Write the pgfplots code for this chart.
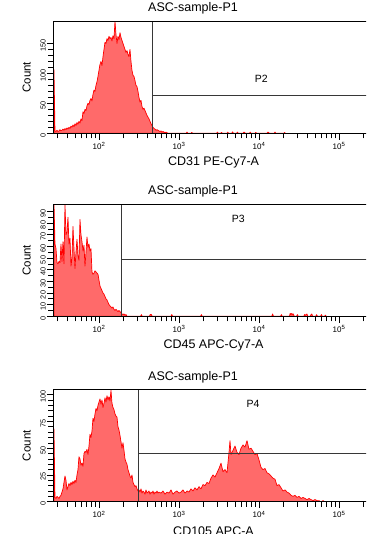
\documentclass[border=0pt]{standalone}
\usepackage{pgfplots}
\pgfplotsset{compat=1.18}
\usepackage{fontspec}
\setmainfont{Liberation Sans}
\definecolor{histfill}{RGB}{255,106,106}
\definecolor{histline}{RGB}{255,0,0}
\definecolor{gate}{RGB}{55,55,55}
\tikzset{
  facsarea/.style={fill=histfill, draw=histline, line width=0.7pt, line join=round},
  gateline/.style={gate, line width=0.9pt},
  gatelabel/.style={font=\fontsize{10.5}{11}\selectfont},
}
\pgfplotsset{
  facs/.style={
    scale only axis, width=319.2pt, height=112pt,
    xmin=1.429, xmax=5.4185, ymin=0,
    axis on top, clip=true,
    tick pos=left, tick align=outside,
    axis line style={black, line width=0.8pt},
    major tick length=6.5pt, minor tick length=5pt,
    every tick/.append style={black, line width=0.6pt},
    xtick={2,3,4,5},
    xticklabels={10\textsuperscript{2},10\textsuperscript{3},10\textsuperscript{4},10\textsuperscript{5}},
    minor xtick={1.4771,1.6021,1.6990,1.7782,1.8451,1.9031,1.9542,
      2.3010,2.4771,2.6021,2.6990,2.7782,2.8451,2.9031,2.9542,
      3.3010,3.4771,3.6021,3.6990,3.7782,3.8451,3.9031,3.9542,
      4.3010,4.4771,4.6021,4.6990,4.7782,4.8451,4.9031,4.9542,5.3010},
    xticklabel style={font=\fontsize{8}{9}\selectfont, inner sep=1pt, yshift=-1.5pt},
    yticklabel style={font=\fontsize{7.3}{8}\selectfont, rotate=90, anchor=south, inner sep=1pt, xshift=-2pt},
    /pgf/number format/assume math mode=true,
    ylabel={Count},
    ylabel style={at={(axis description cs:-0.0833,0.5)}, anchor=center, font=\fontsize{11.5}{12}\selectfont},
    xlabel style={at={(axis description cs:0.502,-0.262)}, anchor=center, font=\fontsize{12.5}{13}\selectfont},
    title={ASC-sample-P1},
    title style={at={(axis description cs:0.4377,1.06)}, anchor=center, font=\fontsize{12.5}{13}\selectfont},
  },
}
\begin{document}
\begin{tikzpicture}
\useasboundingbox (0,0) rectangle (366pt,534pt);
\clip (0,0) rectangle (366pt,534pt);
% ---------- Panel 1 ----------
\begin{axis}[facs, at={(53.3pt,400.7pt)}, anchor=south west,
  ymax=187, ytick={0,50,100,150}, minor y tick num=4,
  xlabel={CD31 PE-Cy7-A}]
\addplot[facsarea] coordinates {
(1.4375,106)(1.45,4)(1.4625,3)(1.475,5)(1.4875,3)(1.5,4)(1.5125,6)(1.525,4)(1.5375,5)(1.55,7)(1.5625,5)(1.575,8)(1.5875,6)(1.6,9)(1.6125,7)(1.625,10)(1.6375,8)(1.65,12)(1.6625,10)(1.675,14)(1.6875,11)(1.7,16)(1.7125,13)(1.725,18)(1.7375,15)(1.75,20)(1.7625,17)(1.775,24)(1.7875,21)(1.8,36)(1.8125,33)(1.825,40)(1.8375,38)(1.85,46)(1.8625,50)(1.875,48)(1.8875,55)(1.9,58)(1.9125,54)(1.925,65)(1.9375,72)(1.95,70)(1.9625,80)(1.975,86)(1.9875,95)(2.0,105)(2.0125,115)(2.025,120)(2.0375,113)(2.05,128)(2.0625,140)(2.075,152)(2.0875,150)(2.1,158)(2.1125,155)(2.125,162)(2.1375,158)(2.15,160)(2.1625,154)(2.175,163)(2.1875,158)(2.2,187)(2.2125,165)(2.225,150)(2.2375,162)(2.25,156)(2.2625,168)(2.275,160)(2.2875,155)(2.3,150)(2.3125,145)(2.325,140)(2.3375,135)(2.35,138)(2.3625,132)(2.375,128)(2.3875,140)(2.4,120)(2.4125,105)(2.425,97)(2.4375,95)(2.45,88)(2.4625,80)(2.475,78)(2.4875,70)(2.5,60)(2.5125,52)(2.525,55)(2.5375,45)(2.55,40)(2.5625,42)(2.575,38)(2.5875,34)(2.6,30)(2.6125,27)(2.625,24)(2.6375,20)(2.65,16)(2.6625,13)(2.675,10)(2.6875,8)(2.7,7)(2.7125,5)(2.725,6)(2.7375,5)(2.75,4)(2.7625,3)(2.775,4)(2.7875,2)(2.8,3)(2.8125,2)(2.825,1)(2.8375,2)(2.85,1)(2.8625,0)
(3.09,0)(3.10,2)(3.11,0)(3.15,0)(3.16,1.5)(3.17,0)(3.47,0)(3.48,2)(3.49,0)(3.52,0)(3.53,1.5)(3.545,0)(3.6,0)(3.61,2)(3.62,0)(3.66,0)(3.67,2.5)(3.68,0)(3.72,0)(3.73,2)(3.74,0)(3.80,0)(3.81,2)(3.82,1.5)(3.83,0)(3.88,0)(3.89,2)(3.90,0)(3.95,0)(3.96,1.5)(3.97,0)(4.10,0)(4.11,2)(4.12,1.5)(4.13,0)(4.19,0)(4.20,2)(4.21,0)(4.31,0)(4.32,1.5)(4.33,0)
} \closedcycle;
\draw[gateline] (axis cs:2.671,0) -- (axis cs:2.671,187);
\draw[gateline] (axis cs:2.671,62.5) -- (axis cs:5.4185,62.5);
\node[gatelabel] at (axis cs:4.03,90.5) {P2};
\end{axis}
% ---------- Panel 2 ----------
\begin{axis}[facs, at={(53.3pt,217.7pt)}, anchor=south west,
  ymax=96, ytick={0,10,...,90}, minor y tick num=1,
  xlabel={CD45 APC-Cy7-A}]
\addplot[facsarea] coordinates {
(1.4375,98)(1.45,62)(1.4625,58)(1.475,46)(1.4875,45)(1.5,47)(1.5125,46)(1.525,62)(1.5375,47)(1.55,64)(1.5625,45)(1.575,96)(1.5875,70)(1.6,72)(1.6125,85)(1.625,62)(1.6375,67)(1.65,43)(1.6625,50)(1.675,77)(1.6875,58)(1.7,41)(1.7125,55)(1.725,66)(1.7375,52)(1.75,48)(1.7625,83)(1.775,70)(1.7875,64)(1.8,56)(1.8125,61)(1.825,43)(1.8375,55)(1.85,68)(1.8625,59)(1.875,62)(1.8875,56)(1.9,58)(1.9125,38)(1.925,36)(1.9375,37)(1.95,39)(1.9625,38)(1.975,37)(1.9875,36)(2.0,31)(2.0125,26)(2.025,24)(2.0375,22)(2.05,20)(2.0625,19)(2.075,17)(2.0875,15)(2.1,14)(2.1125,12)(2.125,10)(2.1375,9)(2.15,8)(2.1625,7)(2.175,8)(2.1875,6)(2.2,5)(2.2125,6)(2.225,5)(2.2375,4)(2.25,5)(2.2625,4)(2.275,3)(2.2875,2)(2.3,1.5)(2.3125,2)(2.325,1)(2.3375,1.5)(2.35,0)
(2.52,0)(2.53,1.5)(2.54,0)(2.63,0)(2.64,1.5)(2.655,1.5)(2.665,0)(2.9,0)(2.91,1.5)(2.92,0)(3.27,0)(3.28,1.5)(3.29,0)(4.16,0)(4.17,2)(4.18,0)(4.27,0)(4.28,1.5)(4.29,0)(4.38,0)(4.39,2.5)(4.40,1.5)(4.41,2.5)(4.42,1.5)(4.43,2)(4.44,0)(4.47,0)(4.48,1.5)(4.49,0)(4.56,0)(4.57,1.5)(4.58,1)(4.60,2)(4.61,0)(4.64,0)(4.65,1.5)(4.66,2)(4.67,0)(4.71,0)(4.72,1.5)(4.73,0)(4.77,0)(4.78,1.5)(4.79,0)(4.82,0)(4.83,1)(4.84,0)
} \closedcycle;
\draw[gateline] (axis cs:2.284,0) -- (axis cs:2.284,96);
\draw[gateline] (axis cs:2.284,49) -- (axis cs:5.4185,49);
\node[gatelabel] at (axis cs:3.74,83.8) {P3};
\end{axis}
% ---------- Panel 3 ----------
\begin{axis}[facs, at={(53.3pt,32.3pt)}, anchor=south west,
  ymax=104.6, ytick={0,25,50,75,100}, minor y tick num=4,
  xlabel={CD105 APC-A}]
\addplot[facsarea] coordinates {
(1.4375,68)(1.45,4)(1.4625,3)(1.475,5)(1.4875,4)(1.5,3)(1.5125,5)(1.525,6)(1.5375,9)(1.55,12)(1.5625,18)(1.575,24)(1.5875,20)(1.6,11)(1.6125,14)(1.625,17)(1.6375,15)(1.65,18)(1.6625,16)(1.675,19)(1.6875,17)(1.7,20)(1.7125,18)(1.725,25)(1.7375,30)(1.75,42)(1.7625,40)(1.775,34)(1.7875,36)(1.8,33)(1.8125,45)(1.825,47)(1.8375,46)(1.85,49)(1.8625,44)(1.875,52)(1.8875,63)(1.9,60)(1.9125,66)(1.925,78)(1.9375,75)(1.95,82)(1.9625,87)(1.975,85)(1.9875,90)(2.0,93)(2.0125,96)(2.025,91)(2.0375,95)(2.05,88)(2.0625,92)(2.075,97)(2.0875,93)(2.1,99)(2.1125,95)(2.125,98)(2.1375,94)(2.15,104)(2.1625,92)(2.175,88)(2.1875,86)(2.2,82)(2.2125,80)(2.225,79)(2.2375,70)(2.25,67)(2.2625,62)(2.275,56)(2.2875,50)(2.3,55)(2.3125,48)(2.325,40)(2.3375,37)(2.35,35)(2.3625,30)(2.375,27)(2.3875,24)(2.4,22)(2.4125,25)(2.425,18)(2.4375,16)(2.45,14)(2.4625,15)(2.475,12)(2.4875,10)(2.5,11)(2.5125,9)(2.525,12)(2.5375,8)(2.55,10)(2.5625,9)(2.575,7)(2.5875,11)(2.6,8)(2.6125,9)(2.625,10)(2.6375,7)(2.65,9)(2.6625,8)(2.675,10)(2.6875,7)(2.7,9)(2.7125,8)(2.725,10)(2.7375,8)(2.75,9)
(2.775,8)(2.8,10)(2.825,7)(2.85,9)(2.875,8)(2.9,11)(2.925,7)(2.95,9)(2.975,10)(3.0,8)(3.025,9)(3.05,11)(3.075,8)(3.1,10)(3.125,9)(3.15,12)(3.175,10)(3.2,13)(3.225,11)(3.25,14)(3.275,12)(3.3,16)(3.325,15)(3.35,18)(3.375,17)(3.4,22)(3.425,25)(3.45,23)(3.475,27)(3.5,31)(3.525,36)(3.55,28)(3.575,30)(3.6,27)(3.625,46)(3.6375,57)(3.65,44)(3.675,48)(3.7,52)(3.725,46)(3.75,44)(3.775,50)(3.8,53)(3.825,51)(3.85,57)(3.875,49)(3.9,50)(3.925,47)(3.95,44)(3.975,45)(4.0,39)(4.025,32)(4.05,30)(4.075,31)(4.1,27)(4.125,26)(4.15,24)(4.175,22)(4.2,21)(4.225,15)(4.25,16)(4.275,13)(4.3,10)(4.325,11)(4.35,9)(4.375,8)(4.4,6)(4.425,5)(4.45,6)(4.475,4)(4.5,5)(4.525,3)(4.55,4)(4.575,3)(4.6,2)(4.625,3)(4.65,2)(4.675,1)(4.7,2)(4.725,1)(4.75,1)(4.775,0)(4.8,1)(4.825,0)
} \closedcycle;
\draw[gateline] (axis cs:2.491,0) -- (axis cs:2.491,104.6);
\draw[gateline] (axis cs:2.491,45) -- (axis cs:5.4185,45);
\node[gatelabel] at (axis cs:3.925,91.6) {P4};
\end{axis}
\end{tikzpicture}
\end{document}
